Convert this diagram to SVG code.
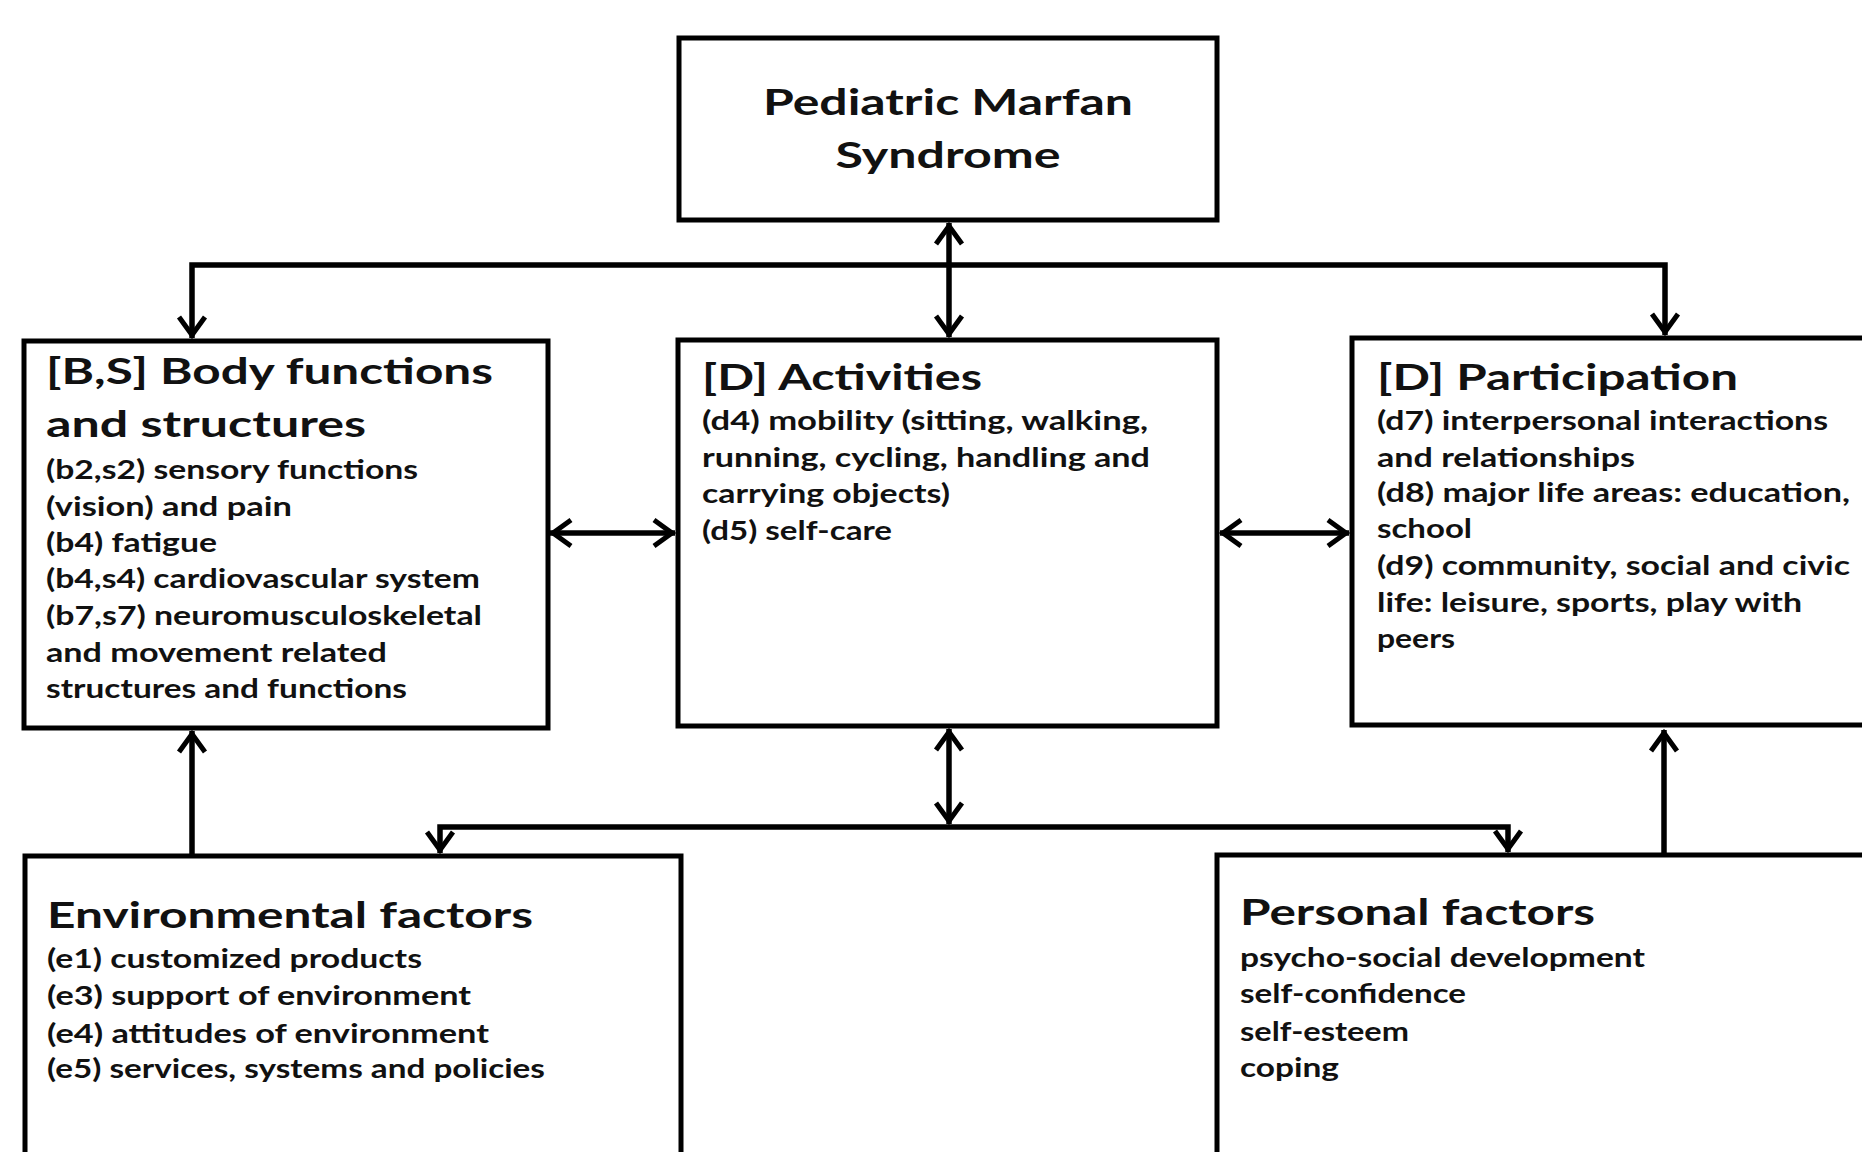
<svg xmlns="http://www.w3.org/2000/svg" width="1862" height="1152" viewBox="0 0 1862 1152">
<style>
.box{fill:#fff;stroke:#000;stroke-width:5}
.con{fill:none;stroke:#000;stroke-width:5.5}
.h{font-family:Lato,"Open Sans","Liberation Sans",sans-serif;font-weight:bold;font-size:37px;fill:#111}
.t{font-family:Lato,"Open Sans","Liberation Sans",sans-serif;font-weight:bold;font-size:27px;fill:#111}
</style>
<defs>
<marker id="arr" markerUnits="userSpaceOnUse" markerWidth="50" markerHeight="50" viewBox="-30 -25 50 50" refX="0" refY="0" orient="auto-start-reverse" overflow="visible">
<path d="M-21,-13 L-3,0 L-21,13" fill="none" stroke="#000" stroke-width="5"/>
</marker>
</defs>
<rect width="1862" height="1152" fill="#fff"/>
<g id="connectors">
<line class="con" x1="949" y1="223" x2="949" y2="337" marker-start="url(#arr)" marker-end="url(#arr)"/>
<polyline class="con" points="192,338 192,265 1665,265 1665,335" marker-start="url(#arr)" marker-end="url(#arr)"/>
<line class="con" x1="550" y1="533" x2="675" y2="533" marker-start="url(#arr)" marker-end="url(#arr)"/>
<line class="con" x1="1220" y1="533" x2="1349" y2="533" marker-start="url(#arr)" marker-end="url(#arr)"/>
<line class="con" x1="949" y1="729" x2="949" y2="824" marker-start="url(#arr)" marker-end="url(#arr)"/>
<polyline class="con" points="440,853 440,827 1508,827 1508,852" marker-start="url(#arr)" marker-end="url(#arr)"/>
<line class="con" x1="192" y1="854" x2="192" y2="731" marker-end="url(#arr)"/>
<line class="con" x1="1664" y1="853" x2="1664" y2="730" marker-end="url(#arr)"/>
</g>
<g id="top">
<rect class="box" x="679" y="38" width="538" height="182"/>
<text class="h" x="948" y="115" text-anchor="middle" textLength="370" lengthAdjust="spacingAndGlyphs">Pediatric Marfan</text>
<text class="h" x="948" y="168" text-anchor="middle" textLength="225" lengthAdjust="spacingAndGlyphs">Syndrome</text>
</g>
<g id="body">
<rect class="box" x="24" y="341" width="524" height="387"/>
<text class="h" x="46" y="384" textLength="447" lengthAdjust="spacingAndGlyphs">[B,S] Body functions</text>
<text class="h" x="46" y="437" textLength="320" lengthAdjust="spacingAndGlyphs">and structures</text>
<text class="t" x="46" y="479" textLength="372" lengthAdjust="spacingAndGlyphs">(b2,s2) sensory functions</text>
<text class="t" x="46" y="516" textLength="246" lengthAdjust="spacingAndGlyphs">(vision) and pain</text>
<text class="t" x="46" y="552" textLength="171" lengthAdjust="spacingAndGlyphs">(b4) fatigue</text>
<text class="t" x="46" y="588" textLength="434" lengthAdjust="spacingAndGlyphs">(b4,s4) cardiovascular system</text>
<text class="t" x="46" y="625" textLength="436" lengthAdjust="spacingAndGlyphs">(b7,s7) neuromusculoskeletal</text>
<text class="t" x="46" y="662" textLength="341" lengthAdjust="spacingAndGlyphs">and movement related</text>
<text class="t" x="46" y="698" textLength="361" lengthAdjust="spacingAndGlyphs">structures and functions</text>
</g>
<g id="activities">
<rect class="box" x="678" y="340" width="539" height="386"/>
<text class="h" x="702" y="390" textLength="280" lengthAdjust="spacingAndGlyphs">[D] Activities</text>
<text class="t" x="702" y="430" textLength="446" lengthAdjust="spacingAndGlyphs">(d4) mobility (sitting, walking,</text>
<text class="t" x="702" y="467" textLength="448" lengthAdjust="spacingAndGlyphs">running, cycling, handling and</text>
<text class="t" x="702" y="503" textLength="248" lengthAdjust="spacingAndGlyphs">carrying objects)</text>
<text class="t" x="702" y="540" textLength="190" lengthAdjust="spacingAndGlyphs">(d5) self-care</text>
</g>
<g id="participation">
<rect class="box" x="1352" y="338" width="540" height="387"/>
<text class="h" x="1377" y="390" textLength="361" lengthAdjust="spacingAndGlyphs">[D] Participation</text>
<text class="t" x="1377" y="430" textLength="451" lengthAdjust="spacingAndGlyphs">(d7) interpersonal interactions</text>
<text class="t" x="1377" y="467" textLength="258" lengthAdjust="spacingAndGlyphs">and relationships</text>
<text class="t" x="1377" y="502" textLength="473" lengthAdjust="spacingAndGlyphs">(d8) major life areas: education,</text>
<text class="t" x="1377" y="538" textLength="95" lengthAdjust="spacingAndGlyphs">school</text>
<text class="t" x="1377" y="575" textLength="473" lengthAdjust="spacingAndGlyphs">(d9) community, social and civic</text>
<text class="t" x="1377" y="612" textLength="425" lengthAdjust="spacingAndGlyphs">life: leisure, sports, play with</text>
<text class="t" x="1377" y="648" textLength="78" lengthAdjust="spacingAndGlyphs">peers</text>
</g>
<g id="environmental">
<rect class="box" x="25" y="856" width="656" height="330"/>
<text class="h" x="47" y="928" textLength="486" lengthAdjust="spacingAndGlyphs">Environmental factors</text>
<text class="t" x="47" y="968" textLength="375" lengthAdjust="spacingAndGlyphs">(e1) customized products</text>
<text class="t" x="47" y="1005" textLength="424" lengthAdjust="spacingAndGlyphs">(e3) support of environment</text>
<text class="t" x="47" y="1043" textLength="442" lengthAdjust="spacingAndGlyphs">(e4) attitudes of environment</text>
<text class="t" x="47" y="1078" textLength="498" lengthAdjust="spacingAndGlyphs">(e5) services, systems and policies</text>
</g>
<g id="personal">
<rect class="box" x="1217" y="855" width="680" height="330"/>
<text class="h" x="1240" y="925" textLength="355" lengthAdjust="spacingAndGlyphs">Personal factors</text>
<text class="t" x="1240" y="967" textLength="405" lengthAdjust="spacingAndGlyphs">psycho-social development</text>
<text class="t" x="1240" y="1003" textLength="226" lengthAdjust="spacingAndGlyphs">self-confidence</text>
<text class="t" x="1240" y="1041" textLength="169" lengthAdjust="spacingAndGlyphs">self-esteem</text>
<text class="t" x="1240" y="1077" textLength="99" lengthAdjust="spacingAndGlyphs">coping</text>
</g>
</svg>
